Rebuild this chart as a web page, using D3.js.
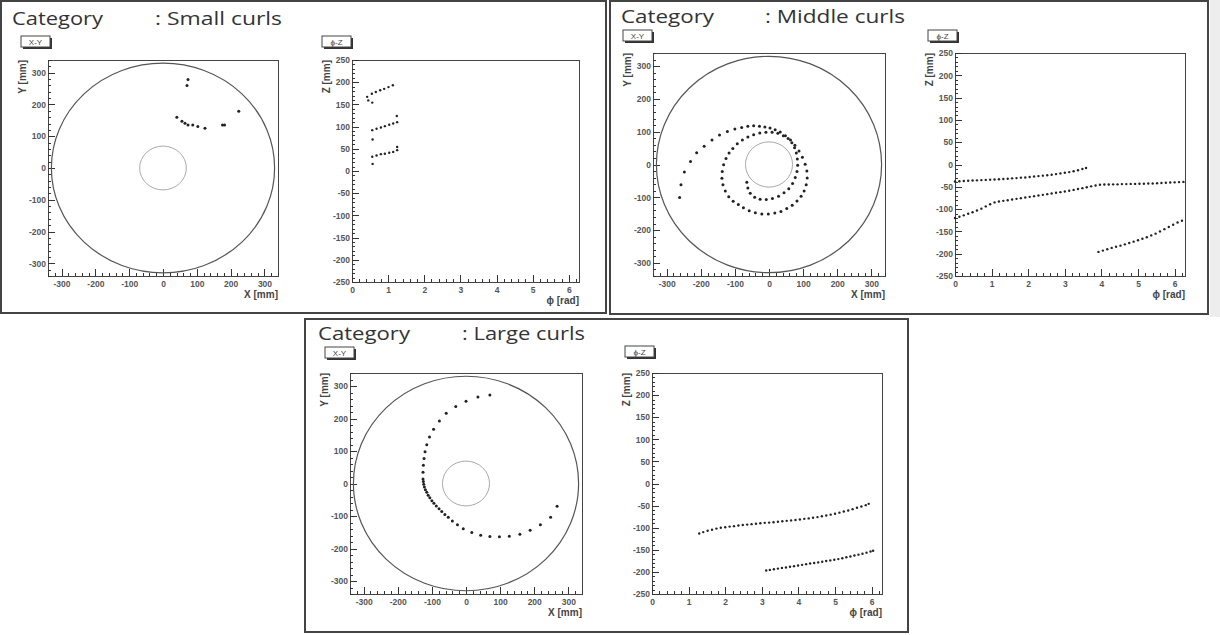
<!DOCTYPE html>
<html>
<head>
<meta charset="utf-8">
<script src="https://cdn.jsdelivr.net/npm/d3@7"></script>
<style>
  body { margin: 0; background: #fff; }
  svg { display: block; font-family: "Liberation Sans", Arial, sans-serif; }
</style>
</head>
<body>
<svg id="fig" width="1220" height="635"></svg>
<script>
// tick labels
const xyTicks = [-300, -200, -100, 0, 100, 200, 300];
const phiTicks = [0, 1, 2, 3, 4, 5, 6];
const zTicks = [-250, -200, -150, -100, -50, 0, 50, 100, 150, 200, 250];

// detector outline (mm)
const outerR = 330, innerR = 69;

// ---- Small curls ----
const smallXY = [[74,279],[71,260],[224,179],[41,160],[56,147],[65,141],[74,135],[88,135],[103,131],[124,125],[176,135],[182,135]];
const smallPhiZ = [
  [0.42,167],[0.45,159],[0.56,154],[0.55,174],[0.66,178],[0.78,182],[0.89,185],[1.01,189],[1.13,193],
  [0.57,71],[0.56,92],[0.68,95],[0.80,98],[0.91,101],[1.03,104],[1.14,107],[1.25,110],[1.24,124],
  [0.57,16],[0.56,32],[0.68,35],[0.80,38],[0.91,39],[1.03,41],[1.14,43],[1.25,47],[1.25,54]
];

// ---- Middle curls ----
const middleXY = [
  [-262,-101],[-258,-62],[-248,-23],[-230,9],[-212,36],[-190,56],[-167,75],[-145,90],[-122,101],[-100,108],
  [-80,113],[-62,117],[-45,118],[-28,117],[-12,114],[3,111],[18,106],[33,99],[48,88],[63,75],
  [76,59],[88,41],[98,22],[106,1],[111,-20],[112,-41],[109,-62],[103,-81],[94,-97],[82,-111],
  [68,-124],[52,-134],[35,-143],[17,-148],[-2,-151],[-21,-151],[-40,-147],[-58,-141],[-75,-132],[-90,-122],
  [-105,-112],[-118,-98],[-128,-81],[-135,-62],[-138,-42],[-137,-21],[-133,-1],[-126,18],[-117,35],[-106,49],
  [-93,63],[-78,75],[-62,84],[-45,91],[-27,96],[-9,98],[9,98],[26,95],[42,88],[56,79],
  [67,66],[75,51],[80,35],[83,17],[84,-2],[82,-21],[77,-40],[69,-58],[58,-74],[44,-86],
  [28,-97],[10,-104],[-8,-107],[-26,-106],[-42,-100],[-55,-88],[-62,-72],[-65,-54]
];
const middlePhiZ_a = [
  [0.00,-38],[0.12,-37.5],[0.24,-37],[0.36,-36.5],[0.48,-36],[0.60,-35.5],[0.72,-35],[0.84,-34.5],[0.96,-34],[1.08,-33.5],
  [1.20,-33],[1.32,-32.5],[1.44,-32],[1.56,-31],[1.68,-30.5],[1.80,-29.5],[1.92,-29],[2.04,-28],[2.16,-27],[2.28,-26],
  [2.40,-25],[2.52,-24],[2.64,-23],[2.76,-21.5],[2.88,-20],[3.00,-18.5],[3.12,-17],[3.24,-15],[3.36,-13],[3.48,-10],[3.58,-8]
];
const middlePhiZ_b = [
  [0.00,-120],[0.12,-117],[0.24,-114],[0.36,-110.5],[0.48,-107],[0.60,-103],[0.72,-99],[0.84,-94],[0.96,-89],[1.08,-85],
  [1.20,-83],[1.32,-81.5],[1.44,-80],[1.56,-78.5],[1.68,-77],[1.80,-75.5],[1.92,-74],[2.04,-72.5],[2.16,-71],[2.28,-69.5],
  [2.40,-68],[2.52,-66.5],[2.64,-65],[2.76,-63.5],[2.88,-62],[3.00,-60.5],[3.12,-59],[3.24,-57],[3.36,-55],[3.48,-53],
  [3.60,-51],[3.72,-49],[3.84,-47],[3.96,-45.5],[4.08,-45],[4.20,-45],[4.32,-44.5],[4.44,-44.5],[4.56,-44],[4.68,-44],
  [4.80,-43.5],[4.92,-43.5],[5.04,-43],[5.16,-43],[5.28,-42.5],[5.40,-42.5],[5.52,-42],[5.64,-41.5],[5.76,-41],[5.88,-40.5],
  [6.00,-40],[6.12,-39.5],[6.24,-39]
];
const middlePhiZ_c = [
  [3.92,-196],[4.04,-193],[4.16,-190],[4.28,-187],[4.40,-184.5],[4.52,-182],[4.64,-179],[4.76,-176],[4.88,-173],[5.00,-170],
  [5.12,-166.5],[5.24,-163],[5.36,-159],[5.48,-155],[5.60,-150],[5.72,-145],[5.84,-140],[5.96,-135],[6.08,-130],[6.20,-126]
];

// ---- Large curls ----
const largeXY = [
  [70,272],[35,266],[0,253],[-30,237],[-58,216],[-78,192],[-95,167],[-107,143],[-115,119],[-120,98],
  [-123,77],[-125,56],[-126,35],[-126,14],[-125,6],[-124,-2],[-122,-11],[-119,-19],[-115,-27],[-111,-36],
  [-106,-44],[-100,-53],[-94,-61],[-87,-69],[-79,-78],[-71,-86],[-62,-95],[-52,-104],[-40,-115],[-25,-127],
  [-8,-139],[17,-151],[43,-159],[70,-163],[98,-164],[127,-162],[158,-156],[188,-144],[218,-127],[248,-104],[267,-70]
];
const largePhiZ_a = [
  [1.29,-113],[1.40,-110],[1.52,-107],[1.64,-104.5],[1.76,-102],[1.88,-100],[2.00,-99],[2.12,-97.5],[2.24,-96.5],[2.36,-95],
  [2.48,-94],[2.60,-93],[2.72,-92],[2.84,-91],[2.96,-90],[3.08,-89],[3.20,-88.5],[3.32,-87.5],[3.44,-86.5],[3.56,-85.5],
  [3.68,-84.5],[3.80,-83.5],[3.92,-82.5],[4.04,-81.5],[4.16,-80],[4.28,-79],[4.40,-77.5],[4.52,-76],[4.64,-74],[4.76,-72.5],
  [4.88,-70.5],[5.00,-68.5],[5.12,-66],[5.24,-63.5],[5.36,-61],[5.48,-58],[5.60,-55],[5.72,-52],[5.84,-49],[5.92,-46]
];
const largePhiZ_b = [
  [3.12,-197],[3.22,-195.5],[3.33,-194],[3.44,-192.5],[3.55,-191],[3.66,-190],[3.77,-188.5],[3.88,-187],[3.99,-185.5],[4.10,-184],
  [4.21,-182.5],[4.32,-181],[4.43,-180],[4.54,-178.5],[4.65,-177],[4.76,-175.5],[4.87,-174],[4.98,-172.5],[5.09,-171],[5.20,-169],
  [5.31,-167],[5.42,-165],[5.53,-163],[5.64,-161],[5.75,-159],[5.86,-156.5],[5.97,-154],[6.04,-152]
];

// layout of the three panels (pixels)
const panels = [
  { name: ": Small curls", border: [1, 1, 606, 313], ty: 25, cat: [12, 103], lab: [155, 282],
    xyFrame: [48, 60, 278, 276], xyBox: [21, 36], pzFrame: [352, 60, 579, 282], pzBox: [322, 36],
    xy: smallXY, pz: [smallPhiZ] },
  { name: ": Middle curls", border: [610, 1, 1208, 314], ty: 23, cat: [621, 714], lab: [765, 905],
    xyFrame: [653, 53, 885, 276], xyBox: [623, 30], pzFrame: [955, 53, 1185, 276], pzBox: [928, 30],
    xy: middleXY, pz: [middlePhiZ_a, middlePhiZ_b, middlePhiZ_c] },
  { name: ": Large curls", border: [305, 319, 908, 632], ty: 340, cat: [318, 410], lab: [462, 585],
    xyFrame: [350, 373, 582, 594], xyBox: [325, 347], pzFrame: [652, 373, 882, 594], pzBox: [625, 346],
    xy: largeXY, pz: [largePhiZ_a, largePhiZ_b] }
];

const svg = d3.select("#fig");
svg.append("rect").attr("width", 1220).attr("height", 635).attr("fill", "#fff");
svg.append("rect").attr("x", 1210).attr("y", 0).attr("width", 10).attr("height", 317).attr("fill", "#ededed");

const plain = d => String(d);  // ROOT style: plain hyphen, no decimals

function styleAxis(sel) {
  sel.select(".domain").remove();
  sel.selectAll("line").remove();
  sel.selectAll("text").attr("font-size", 8.5).attr("font-weight", "bold").attr("fill", "#555")
    .attr("font-family", "Liberation Sans, Arial, sans-serif");
}

function drawBox(g, pos, label) {
  const w = 29, h = 11;
  g.append("rect").attr("x", pos[0] + 2).attr("y", pos[1] + 2).attr("width", w).attr("height", h).attr("fill", "#333");
  g.append("rect").attr("x", pos[0]).attr("y", pos[1]).attr("width", w).attr("height", h)
    .attr("fill", "#fff").attr("stroke", "#444").attr("stroke-width", 1);
  g.append("text").attr("x", pos[0] + w / 2).attr("y", pos[1] + 8.5).attr("text-anchor", "middle")
    .attr("font-size", 8).attr("fill", "#444").text(label);
}

// inward ROOT-style ticks
function tickLines(g, vals, len, horizontal, scale, base) {
  g.append("g").selectAll("line").data(vals).join("line")
    .attr("x1", d => horizontal ? Math.round(scale(d)) + 0.5 : base)
    .attr("x2", d => horizontal ? Math.round(scale(d)) + 0.5 : base + len)
    .attr("y1", d => horizontal ? base : Math.round(scale(d)) + 0.5)
    .attr("y2", d => horizontal ? base - len : Math.round(scale(d)) + 0.5)
    .attr("stroke", "#333").attr("stroke-width", 1);
}

function drawFrame(g, f, x, y, xMajor, yMajor, xMinor, yMinor, xTitle, yTitle) {
  g.append("rect").attr("x", f[0] + 0.5).attr("y", f[1] + 0.5).attr("width", f[2] - f[0]).attr("height", f[3] - f[1])
    .attr("fill", "none").attr("stroke", "#444").attr("stroke-width", 1);

  tickLines(g, x.ticks(xMinor), 3, true, x, f[3]);
  tickLines(g, xMajor, 7, true, x, f[3]);
  tickLines(g, y.ticks(yMinor), 3, false, y, f[0]);
  tickLines(g, yMajor, 7, false, y, f[0]);

  g.append("g").attr("transform", `translate(0,${f[3]})`)
    .call(d3.axisBottom(x).tickValues(xMajor).tickFormat(plain).tickSize(0).tickPadding(5)).call(styleAxis);
  g.append("g").attr("transform", `translate(${f[0]},0)`)
    .call(d3.axisLeft(y).tickValues(yMajor).tickFormat(plain).tickSize(0).tickPadding(2)).call(styleAxis);

  g.append("text").attr("x", f[2]).attr("y", f[3] + 22).attr("text-anchor", "end")
    .attr("font-size", 10).attr("font-weight", "bold").attr("fill", "#444").text(xTitle);
  g.append("text").attr("transform", `translate(${f[0] - 22},${f[1]}) rotate(-90)`).attr("text-anchor", "end")
    .attr("font-size", 10).attr("font-weight", "bold").attr("fill", "#444").text(yTitle);
}

panels.forEach(p => {
  const g = svg.append("g");
  const b = p.border;
  g.append("rect").attr("x", b[0]).attr("y", b[1]).attr("width", b[2] - b[0]).attr("height", b[3] - b[1])
    .attr("fill", "#fff").attr("stroke", "#444").attr("stroke-width", 2);

  // title
  g.append("text").attr("x", p.cat[0]).attr("y", p.ty).attr("font-family", "Open Sans, sans-serif")
    .attr("font-size", 18).attr("fill", "#333").attr("textLength", p.cat[1] - p.cat[0])
    .attr("lengthAdjust", "spacingAndGlyphs").text("Category");
  g.append("text").attr("x", p.lab[0]).attr("y", p.ty).attr("font-family", "Open Sans, sans-serif")
    .attr("font-size", 18).attr("fill", "#333").attr("textLength", p.lab[1] - p.lab[0])
    .attr("lengthAdjust", "spacingAndGlyphs").text(p.name);

  // X-Y view
  const f = p.xyFrame;
  const x = d3.scaleLinear().domain([-340, 340]).range([f[0], f[2]]);
  const y = d3.scaleLinear().domain([-340, 340]).range([f[3], f[1]]);
  drawBox(g, p.xyBox, "X-Y");
  drawFrame(g, f, x, y, xyTicks, xyTicks, 34, 34, "X [mm]", "Y [mm]");
  g.append("ellipse").attr("cx", x(0)).attr("cy", y(0))
    .attr("rx", x(outerR) - x(0)).attr("ry", y(0) - y(outerR))
    .attr("fill", "none").attr("stroke", "#555").attr("stroke-width", 1.2);
  g.append("ellipse").attr("cx", x(0)).attr("cy", y(0))
    .attr("rx", x(innerR) - x(0)).attr("ry", y(0) - y(innerR))
    .attr("fill", "none").attr("stroke", "#aaa").attr("stroke-width", 1);
  g.append("g").selectAll("circle").data(p.xy).join("circle")
    .attr("cx", d => x(d[0])).attr("cy", d => y(d[1])).attr("r", 1.5).attr("fill", "#222");

  // phi-Z view
  const f2 = p.pzFrame;
  const px = d3.scaleLinear().domain([0, 2 * Math.PI]).range([f2[0], f2[2]]);
  const pz = d3.scaleLinear().domain([-250, 250]).range([f2[3], f2[1]]);
  drawBox(g, p.pzBox, "\u03d5-Z");
  drawFrame(g, f2, px, pz, phiTicks, zTicks, 30, 50, "\u03d5 [rad]", "Z [mm]");
  p.pz.forEach(series => {
    g.append("g").selectAll("circle").data(series).join("circle")
      .attr("cx", d => px(d[0])).attr("cy", d => pz(d[1])).attr("r", 1.2).attr("fill", "#222");
  });
});
</script>
</body>
</html>
